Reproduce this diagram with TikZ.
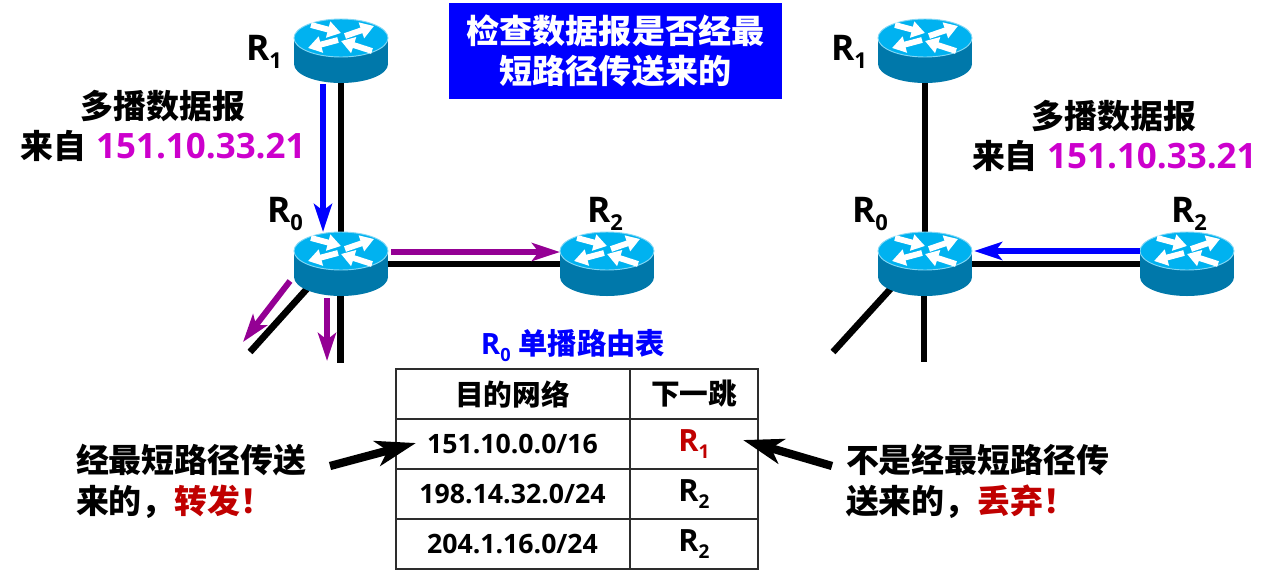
\documentclass[tikz,border=0pt]{standalone}
\usepackage{fontspec}
\usepackage{graphicx}
\setmainfont{Open Sans}[BoldFont={Open Sans Bold}]
\newfontfamily\cjk{Noto Sans CJK SC}
\usetikzlibrary{arrows.meta,backgrounds}
\definecolor{rtop}{RGB}{0,178,240}
\definecolor{rside}{RGB}{0,120,170}
\definecolor{redge}{RGB}{130,215,245}
\definecolor{mag}{RGB}{204,0,204}
\definecolor{purp}{RGB}{148,0,148}
\definecolor{dred}{RGB}{192,0,0}
\definecolor{tline}{RGB}{45,45,45}
\newcommand\fs[1]{\fontsize{#1}{#1}\selectfont}
\newcommand\zh[1]{{\cjk\bfseries #1}}
\newcommand\Rs[1]{R\raisebox{-0.24em}{\scalebox{0.62}{#1}}}
\newcommand\ipaddr{\hspace{7pt}\textcolor{mag}{\fs{26.2pt}151.10.33.21}}
\tikzset{
  x=0.75pt,y=-0.75pt,
  every node/.style={inner sep=0pt,outer sep=0pt,font=\bfseries},
  big/.style={font=\bfseries\fs{24.7pt}},
  rlab/.style={font=\bfseries\fs{26.5pt}},
  cell/.style={draw=tline,line width=1.5pt,minimum height=37.5pt,anchor=north west},
  cellA/.style={cell,minimum width=175.5pt,font=\bfseries\fs{20pt}},
  cellB/.style={cell,minimum width=96pt,font=\bfseries\fs{23pt}},
  link/.style={line width=5pt,black},
  flowb/.style={line width=4.5pt,blue,-{Stealth[length=21pt,width=13.5pt,inset=5pt]}},
  flowp/.style={line width=4.5pt,purp,-{Stealth[length=21pt,width=13.5pt,inset=5pt]}},
  point/.style={line width=6.2pt,black,-{Stealth[length=30pt,width=19pt,inset=8pt]}},
  glyph/.style={line width=4.4pt,white,-{Triangle[length=10pt,width=12pt]}},
  router/.pic={
    \node[minimum width=70.5pt,minimum height=48.4pt] (-b) at (0,13) {};
    \coordinate (-c) at (0,0);
    \fill[rside] (0,26) ellipse [x radius=47,y radius=19];
    \fill[rside] (-47,0) rectangle (47,26);
    \fill[rtop,draw=redge,line width=0.7pt] (0,0) ellipse [x radius=47,y radius=19];
    \draw[glyph] (-30,-13) -- (0,-5);
    \draw[glyph] (4,-2) -- (33,-12);
    \draw[glyph] (-3,2) -- (-33,10);
    \draw[glyph] (31,13) -- (0,3);
  }
}
\begin{document}
\begin{tikzpicture}
\useasboundingbox (0,0) rectangle (1277,579);
% routers
\pic (a1) at (341,38) {router};
\pic (a0) at (341,251) {router};
\pic (a2) at (607,251) {router};
\pic (b1) at (925,38) {router};
\pic (b0) at (925,251) {router};
\pic (b2) at (1187,251) {router};
% free ends
\coordinate (d1) at (250,352);
\coordinate (d2) at (340.5,363);
\coordinate (e1) at (833,352);
\coordinate (e2) at (924,362);
% black links
\begin{scope}[on background layer]
\draw[link] (a1-b.center) -- (a0-b.center);
\draw[link] (a0-b.center) -- (a2-b.center);
\draw[link] (a0-c) -- (d1);
\draw[link] (a0-b.center -| d2) -- (d2);
\draw[link] (b1-b.center) -- (b0-b.center);
\draw[link] (b0-b.center) -- (b2-b.center);
\draw[link] (b0-c) -- (e1);
\draw[link] (b0-b.center -| e2) -- (e2);
\end{scope}
% flows
\coordinate (f1s) at (323,84); \coordinate (f1e) at (323,232);
\coordinate (f2s) at (391,252); \coordinate (f2e) at (560,252);
\coordinate (f3s) at (290,281); \coordinate (f3e) at (243,342);
\coordinate (f4s) at (327,298); \coordinate (f4e) at (327,361);
\coordinate (f5s) at (1140,251); \coordinate (f5e) at (974,251);
\draw[flowb] (f1s) -- (f1e);
\draw[flowp] (f2s) -- (f2e);
\draw[flowp] (f3s) -- (f3e);
\draw[flowp] (f4s) -- (f4e);
\draw[flowb] (f5s) -- (f5e);
% router labels
\node[rlab] (l1) at (264,52) {\Rs{1}};
\node[rlab] (l0) at (285,214) {\Rs{0}};
\node[rlab] (l2) at (605,214) {\Rs{2}};
\node[rlab] (m1) at (849,52) {\Rs{1}};
\node[rlab] (m0) at (870,214) {\Rs{0}};
\node[rlab] (m2) at (1189,214) {\Rs{2}};
% title box
\node[fill=blue,minimum width=249.75pt,minimum height=72pt,text=white,align=center,font=\fs{24.8pt}] (title) at (615.5,51)
  {\zh{检查数据报是否经最}\\[5pt]\zh{短路径传送来的}};
% multicast labels
\node[big] (t1) at (163,106) {\zh{多播数据报}};
\node[big,anchor=west] (t2) at (21,146) {\zh{来自}\ipaddr};
\node[big] (t3) at (1114,116) {\zh{多播数据报}};
\node[big,anchor=west] (t4) at (972,156) {\zh{来自}\ipaddr};
% table
\node[font=\bfseries\fs{22pt},text=blue] (cap) at (573,346) {\Rs{0} \zh{单播路由表}};
\node[cellA,font=\bfseries\fs{21.5pt}] (h1) at (395.5,369) {\zh{目的网络}};
\node[cellB,font=\bfseries\fs{21.5pt}] (h2) at (630,369) {\zh{下一跳}};
\node[cellA] (r1a) at (395.5,419) {151.10.0.0/16};
\node[cellB,text=dred] (r1b) at (630,419) {\Rs{1}};
\node[cellA] (r2a) at (395.5,469) {198.14.32.0/24};
\node[cellB] (r2b) at (630,469) {\Rs{2}};
\node[cellA] (r3a) at (395.5,519) {204.1.16.0/24};
\node[cellB] (r3b) at (630,519) {\Rs{2}};
% side notes
\node[big,anchor=west] (n1) at (76,460) {\zh{经最短路径传送}};
\node[big,anchor=west] (n2) at (76,502) {\zh{来的，\textcolor{dred}{转发！}}};
\node[big,anchor=west] (n3) at (846,460) {\zh{不是经最短路径传}};
\node[big,anchor=west] (n4) at (846,502) {\zh{送来的，\textcolor{dred}{丢弃！}}};
% pointers
\coordinate (p1s) at (330,466); \coordinate (p1e) at (416,443);
\coordinate (p2s) at (832,466); \coordinate (p2e) at (743,440);
\draw[point] (p1s) -- (p1e);
\draw[point] (p2s) -- (p2e);
\end{tikzpicture}
\end{document}
